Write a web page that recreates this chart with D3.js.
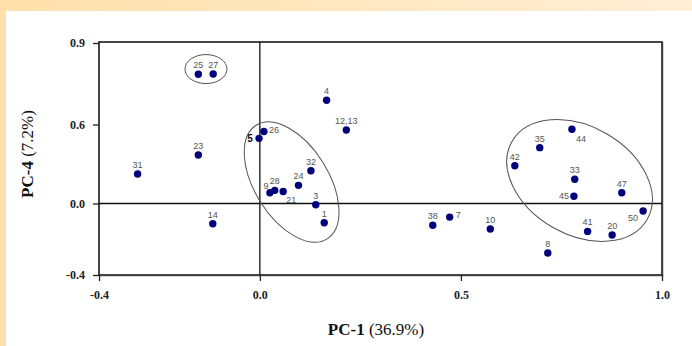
<!DOCTYPE html>
<html>
<head>
<meta charset="utf-8">
<script src="https://cdn.jsdelivr.net/npm/d3@7"></script>
<style>
  html, body { margin: 0; padding: 0; background: #fff; }
  svg { display: block; }
</style>
</head>
<body>
<svg id="chart" width="692" height="346"></svg>
<script>
// ---- data ----
const pointLabels = ["25","27","23","31","14","5","26","9","28","21","24","32","3","1","4","12,13","38","7","10","8","44","35","42","33","47","45","50","41","20"];
const pc1Values   = [-0.153,-0.116,-0.153,-0.304,-0.117,-0.002,0.010,0.025,0.037,0.058,0.096,0.127,0.139,0.160,0.166,0.215,0.430,0.472,0.573,0.716,0.776,0.696,0.634,0.783,0.900,0.781,0.953,0.815,0.876];
const pc4Values   = [0.785,0.786,0.368,0.224,-0.113,0.495,0.547,0.082,0.100,0.091,0.138,0.249,-0.007,-0.108,0.689,0.558,-0.122,-0.076,-0.143,-0.277,0.564,0.424,0.287,0.184,0.082,0.055,-0.042,-0.156,-0.176];
const xTickValues = [-0.4, 0.0, 0.5, 1.0];
const yTickValues = [-0.4, 0.0, 0.6, 0.9];
const xTitleBold = "PC-1", xTitleRest = " (36.9%)";
const yTitleBold = "PC-4", yTitleRest = " (7.2%)";
// group ellipses (centre in data units)
const groupCentreX = [-0.134, 0.079, 0.795];
const groupCentreY = [0.804, 0.163, 0.175];

(function () {
// ---- layout / style ----
const svg = d3.select("#chart");
const W = 692, H = 346;
const mLeft = 99, mRight = 662, mTop = 42, mBottom = 275;

// background decoration
const defs = svg.append("defs");
const grad = defs.append("linearGradient").attr("id", "bg").attr("x1", 0).attr("x2", 1);
grad.append("stop").attr("offset", 0).attr("stop-color", "#fee0ab");
grad.append("stop").attr("offset", 1).attr("stop-color", "#ffeed6");
svg.append("rect").attr("width", W).attr("height", 11).attr("fill", "url(#bg)");
svg.append("rect").attr("width", 6).attr("height", H).attr("fill", "#fee0ab");

const x = d3.scaleLinear().domain([-0.4, 1.0]).range([mLeft, mRight]);
// axis as drawn in the reference: tick labels are not evenly proportional
const y = d3.scaleLinear().domain([-0.4, 0.0, 0.6, 0.9]).range([mBottom, 203.5, 124.5, 43]);

const g = svg.append("g");

// faint shadow of frame
g.append("rect").attr("x", mLeft + 1).attr("y", mTop + 1).attr("width", mRight - mLeft).attr("height", mBottom - mTop)
  .attr("fill", "none").attr("stroke", "#c8c8c8").attr("stroke-width", 1.5);
// frame
g.append("rect").attr("x", mLeft).attr("y", mTop).attr("width", mRight - mLeft).attr("height", mBottom - mTop)
  .attr("fill", "#fff").attr("stroke", "#1a1a1a").attr("stroke-width", 1.6);

// zero lines
g.append("line").attr("x1", x(0)).attr("x2", x(0)).attr("y1", mTop).attr("y2", mBottom)
  .attr("stroke", "#111").attr("stroke-width", 1.3);
g.append("line").attr("x1", mLeft).attr("x2", mRight).attr("y1", y(0)).attr("y2", y(0))
  .attr("stroke", "#111").attr("stroke-width", 1.3);

const fmt = d => d.toFixed(1);
const xAxis = g.append("g").attr("transform", `translate(0,${mBottom})`)
  .call(d3.axisBottom(x).tickValues(xTickValues).tickFormat(fmt).tickSize(6).tickPadding(9));
const yAxis = g.append("g").attr("transform", `translate(${mLeft},0)`)
  .call(d3.axisLeft(y).tickValues(yTickValues).tickFormat(fmt).tickSize(6).tickPadding(8));
[xAxis, yAxis].forEach(a => {
  a.select(".domain").remove();
  a.selectAll(".tick line").attr("stroke", "#222").attr("stroke-width", 1.3);
  a.selectAll(".tick text").attr("fill", "#222")
    .style("font-family", "'Liberation Serif', 'Times New Roman', serif")
    .style("font-weight", "bold").style("font-size", "12px");
});

// group ellipses (geometry of outline in pixels)
const ellRx = [21, 67, 78], ellRy = [14.5, 37, 54], ellRot = [0, 58, 30];
groupCentreX.forEach((cx, i) => {
  g.append("ellipse")
    .attr("transform", `translate(${x(cx)},${y(groupCentreY[i])}) rotate(${ellRot[i]})`)
    .attr("rx", ellRx[i]).attr("ry", ellRy[i])
    .attr("fill", "none").attr("stroke", "#555").attr("stroke-width", 1);
});

// points
const pts = pointLabels.map((l, i) => ({label: l, x: pc1Values[i], y: pc4Values[i]}));
g.selectAll("circle.pt").data(pts).join("circle").attr("class", "pt")
  .attr("cx", d => x(d.x)).attr("cy", d => y(d.y)).attr("r", 3.7).attr("fill", "#00007a");

// label placement
const place = {
  "5":  {dx: -9, dy: 4, anchor: "middle"},
  "26": {dx: 5, dy: 2, anchor: "start"},
  "9":  {dx: -4, dy: -4, anchor: "middle"},
  "21": {dx: 3, dy: 11, anchor: "start"},
  "7":  {dx: 6, dy: 1, anchor: "start"},
  "44": {dx: 4, dy: 13, anchor: "start"},
  "45": {dx: -5, dy: 3, anchor: "end"},
  "50": {dx: -5, dy: 10, anchor: "end"}
};
g.selectAll("text.pl").data(pts).join("text").attr("class", "pl")
  .attr("x", d => x(d.x) + (place[d.label] ? place[d.label].dx : 0))
  .attr("y", d => y(d.y) + (place[d.label] ? place[d.label].dy : -6))
  .attr("text-anchor", d => place[d.label] ? place[d.label].anchor : "middle")
  .style("font-family", "'Liberation Sans', Arial, sans-serif")
  .style("font-size", d => d.label === "5" ? "10px" : "9px")
  .style("font-weight", d => d.label === "5" ? "bold" : "normal")
  .attr("fill", d => d.label === "5" ? "#111" : "#555")
  .text(d => d.label);

// axis titles
const serif = "'Liberation Serif', 'Times New Roman', serif";
const xt = svg.append("text").attr("x", 376).attr("y", 335).attr("text-anchor", "middle")
  .style("font-family", serif).style("font-size", "17px").attr("fill", "#111");
xt.append("tspan").style("font-weight", "bold").text(xTitleBold);
xt.append("tspan").text(xTitleRest);

const yt = svg.append("text").attr("transform", "translate(33,154) rotate(-90)").attr("text-anchor", "middle")
  .style("font-family", serif).style("font-size", "17px").attr("fill", "#111");
yt.append("tspan").style("font-weight", "bold").text(yTitleBold);
yt.append("tspan").text(yTitleRest);
})();
</script>
</body>
</html>
